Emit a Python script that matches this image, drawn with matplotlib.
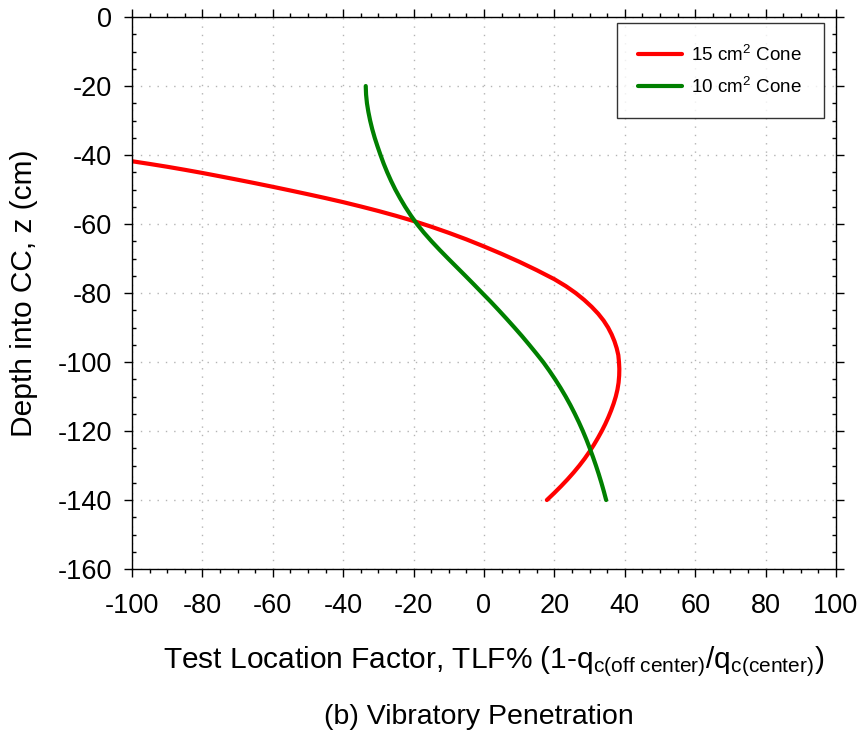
import numpy as np
import matplotlib
matplotlib.use("Agg")
import matplotlib.pyplot as plt
from matplotlib.ticker import MultipleLocator

plt.rcParams["font.family"] = ["Liberation Sans", "DejaVu Sans"]
plt.rcParams["mathtext.fontset"] = "custom"
plt.rcParams["mathtext.rm"] = "Liberation Sans"
plt.rcParams["mathtext.it"] = "Liberation Sans"
plt.rcParams["axes.unicode_minus"] = False

# 15 cm2 cone (red)
tlf_15 = [-100.0, -95.0, -90.0, -85.0, -80.0, -75.0, -70.0, -65.0, -60.0, -55.0, -50.0,
          -45.0, -40.0, -35.0, -30.0, -25.0, -20.0, -15.0, -10.0, -5.0, 0.0, 5.0, 10.0,
          15.0, 20.0, 23.25, 26.05, 28.47, 30.59, 32.44, 33.99, 35.25, 36.26, 37.07,
          37.7, 38.16, 38.35, 38.45, 38.4, 38.23, 37.91, 37.44, 36.84, 36.13, 35.33,
          34.44, 33.45, 32.37, 31.21, 29.96, 28.6, 27.1, 25.48, 23.74, 21.88, 19.92, 17.86]
z_15 = [-41.8, -42.58, -43.4, -44.28, -45.2, -46.17, -47.16, -48.17, -49.21, -50.28, -51.37,
        -52.49, -53.66, -54.91, -56.22, -57.62, -59.12, -60.77, -62.55, -64.45, -66.5, -68.65, -70.93,
        -73.38, -76.0, -78.0, -80.0, -82.0, -84.0, -86.0, -88.0, -90.0, -92.0, -94.0,
        -96.0, -98.0, -100.0, -102.0, -104.0, -106.0, -108.0, -110.0, -112.0, -114.0, -116.0,
        -118.0, -120.0, -122.0, -124.0, -126.0, -128.0, -130.0, -132.0, -134.0, -136.0, -138.0, -140.0]

# 10 cm2 cone (green)
tlf_10 = [-33.6, -33.5, -33.25, -32.85, -32.35, -31.75, -31.05, -30.25, -29.4, -28.5, -27.5,
          -26.4, -25.2, -23.85, -22.4, -20.8, -19.05, -17.07, -14.9, -12.6, -10.2, -7.75,
          -5.3, -2.88, -0.5, 1.9, 4.2, 6.45, 8.65, 10.8, 12.85, 14.85, 16.8, 18.55, 20.2,
          21.75, 23.2, 24.55, 25.8, 26.98, 28.08, 29.1, 30.05, 30.95, 31.8, 32.6, 33.35, 34.05, 34.7]
z_10 = [-20.0, -22.5, -25.0, -27.5, -30.0, -32.5, -35.0, -37.5, -40.0, -42.5, -45.0,
        -47.5, -50.0, -52.5, -55.0, -57.5, -60.0, -62.5, -65.0, -67.5, -70.0, -72.5,
        -75.0, -77.5, -80.0, -82.5, -85.0, -87.5, -90.0, -92.5, -95.0, -97.5, -100.0, -102.5, -105.0,
        -107.5, -110.0, -112.5, -115.0, -117.5, -120.0, -122.5, -125.0, -127.5, -130.0, -132.5, -135.0, -137.5, -140.0]

fig = plt.figure(figsize=(8.59, 7.37), dpi=100)
ax = fig.add_axes([0.15367, 0.2279, 0.81955, 0.749])

ax.plot(tlf_15, z_15, color="#ff0000", linewidth=3.0, label="15 cm$^2$ Cone",
        solid_capstyle="round", solid_joinstyle="round")
ax.plot(tlf_10, z_10, color="#008000", linewidth=3.0, label="10 cm$^2$ Cone",
        solid_capstyle="round", solid_joinstyle="round")

ax.set_xlim(-100, 100)
ax.set_ylim(-160, 0)
ax.xaxis.set_major_locator(MultipleLocator(20))
ax.xaxis.set_minor_locator(MultipleLocator(5))
ax.yaxis.set_major_locator(MultipleLocator(20))
ax.yaxis.set_minor_locator(MultipleLocator(5))
ax.grid(True, which="major", linestyle=(0, (1, 5)), color="#b4b4b4", linewidth=1.0)

ax.tick_params(axis="x", which="both", direction="out", top=True, bottom=True,
               labelsize=19.5, pad=12)
ax.tick_params(axis="x", which="major", length=5.5, width=1)
ax.tick_params(axis="x", which="minor", length=3, width=1)
ax.tick_params(axis="y", which="major", direction="out", left=True, right=True,
               length=5.5, width=1, labelsize=19.5, pad=9)
ax.tick_params(axis="y", which="minor", direction="in", left=True, right=True,
               length=3, width=1)
for s in ax.spines.values():
    s.set_linewidth(1.0)

ax.set_xlabel("Test Location Factor, TLF% (1-q$_{\\mathrm{c(off\\ center)}}$/q$_{\\mathrm{c(center)}}$)",
              fontsize=21.5, labelpad=18)
ax.xaxis.label.set_x(0.513)
ax.set_ylabel("Depth into CC, z (cm)", fontsize=21.5, labelpad=14)
fig.text(0.5576, 0.027, "(b) Vibratory Penetration", fontsize=20.5, ha="center", va="center")

leg = ax.legend(loc="upper right", bbox_to_anchor=(0.983, 0.9897), borderaxespad=0,
                fontsize=13.6, frameon=True, fancybox=False, edgecolor="black",
                handlelength=2.3, handletextpad=0.5, labelspacing=0.64, borderpad=1.15)
leg.get_frame().set_linewidth(1.0)

fig.savefig("out.png", dpi=100)
